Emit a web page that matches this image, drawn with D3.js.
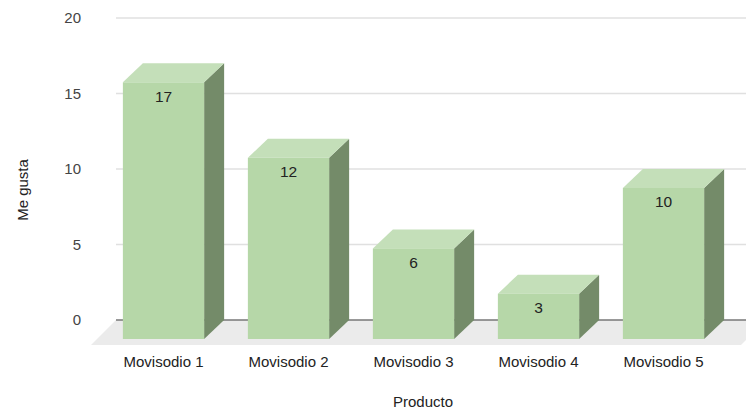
<!DOCTYPE html>
<html>
<head>
<meta charset="utf-8">
<script src="https://cdn.jsdelivr.net/npm/d3@7"></script>
<style>
  html, body { margin: 0; padding: 0; background: #fff; }
  svg { display: block; font-family: "Liberation Sans", Arial, sans-serif; }
</style>
</head>
<body>
<svg id="chart" width="746" height="410"></svg>
<script>
// Data
const categories = ["Movisodio 1", "Movisodio 2", "Movisodio 3", "Movisodio 4", "Movisodio 5"];
const meGusta = [17, 12, 6, 3, 10];
const yTicks = [0, 5, 10, 15, 20];
const xTitle = "Producto";
const yTitle = "Me gusta";

const svg = d3.select("#chart");

// Depth offset of the 3D boxes (back plane is up and to the right)
const depthX = 20, depthY = 19;
const floorDepth = 25;

const plotLeft = 116, plotRight = 746;

const y = d3.scaleLinear().domain([0, 20]).range([320, 18]);
const x = d3.scaleBand()
  .domain(categories)
  .range([101, 726])
  .paddingInner(0.35)
  .paddingOuter(0.175);

const y0 = y(0);

// Floor
svg.append("path")
  .attr("d", `M${plotLeft},${y0} L${plotRight + 20},${y0} L${plotRight + 20 - floorDepth},${y0 + floorDepth} L${plotLeft - floorDepth},${y0 + floorDepth} Z`)
  .attr("fill", "#ebebeb");

// Gridlines
svg.append("g").selectAll("line")
  .data(yTicks.filter(t => t !== 0))
  .join("line")
  .attr("x1", plotLeft).attr("x2", plotRight)
  .attr("y1", d => y(d)).attr("y2", d => y(d))
  .attr("stroke", "#e0e0e0").attr("stroke-width", 1.5);

// Zero line
svg.append("line")
  .attr("x1", plotLeft).attr("x2", plotRight)
  .attr("y1", y0).attr("y2", y0)
  .attr("stroke", "#777").attr("stroke-width", 1.5);

// Y tick labels
svg.append("g").selectAll("text")
  .data(yTicks)
  .join("text")
  .attr("x", 81)
  .attr("y", d => y(d))
  .attr("dy", "0.35em")
  .attr("text-anchor", "end")
  .attr("font-size", 15)
  .attr("fill", "#444")
  .text(d => d);

// Bars as 3D boxes
const bars = svg.append("g").selectAll("g")
  .data(categories.map((c, i) => ({ c, v: meGusta[i] })))
  .join("g");

bars.each(function(d) {
  const g = d3.select(this);
  const xl = x(d.c), xr = x(d.c) + x.bandwidth();
  const topBack = y(d.v);
  const topFront = topBack + depthY;
  const bottomFront = y0 + depthY;
  // side face
  g.append("path")
    .attr("d", `M${xr},${topFront} L${xr + depthX},${topBack} L${xr + depthX},${y0} L${xr},${bottomFront} Z`)
    .attr("fill", "#748b69");
  // top face
  g.append("path")
    .attr("d", `M${xl},${topFront} L${xl + depthX},${topBack} L${xr + depthX},${topBack} L${xr},${topFront} Z`)
    .attr("fill", "#c4dfb9");
  // front face
  g.append("rect")
    .attr("x", xl).attr("y", topFront)
    .attr("width", x.bandwidth()).attr("height", bottomFront - topFront)
    .attr("fill", "#b6d7a8");
  // value label
  g.append("text")
    .attr("x", xl + x.bandwidth() / 2)
    .attr("y", topFront + 14)
    .attr("dy", "0.35em")
    .attr("text-anchor", "middle")
    .attr("font-size", 15.5)
    .attr("fill", "#222")
    .text(d.v);
});

// Category labels
svg.append("g").selectAll("text")
  .data(categories)
  .join("text")
  .attr("x", d => x(d) + x.bandwidth() / 2)
  .attr("y", 362)
  .attr("dy", "0.35em")
  .attr("text-anchor", "middle")
  .attr("font-size", 15)
  .attr("fill", "#222")
  .text(d => d);

// Axis titles
svg.append("text")
  .attr("x", 423).attr("y", 402)
  .attr("dy", "0.35em")
  .attr("text-anchor", "middle")
  .attr("font-size", 15)
  .attr("fill", "#222")
  .text(xTitle);

svg.append("text")
  .attr("transform", "translate(23,190) rotate(-90)")
  .attr("dy", "0.35em")
  .attr("text-anchor", "middle")
  .attr("font-size", 15)
  .attr("fill", "#222")
  .text(yTitle);
</script>
</body>
</html>
